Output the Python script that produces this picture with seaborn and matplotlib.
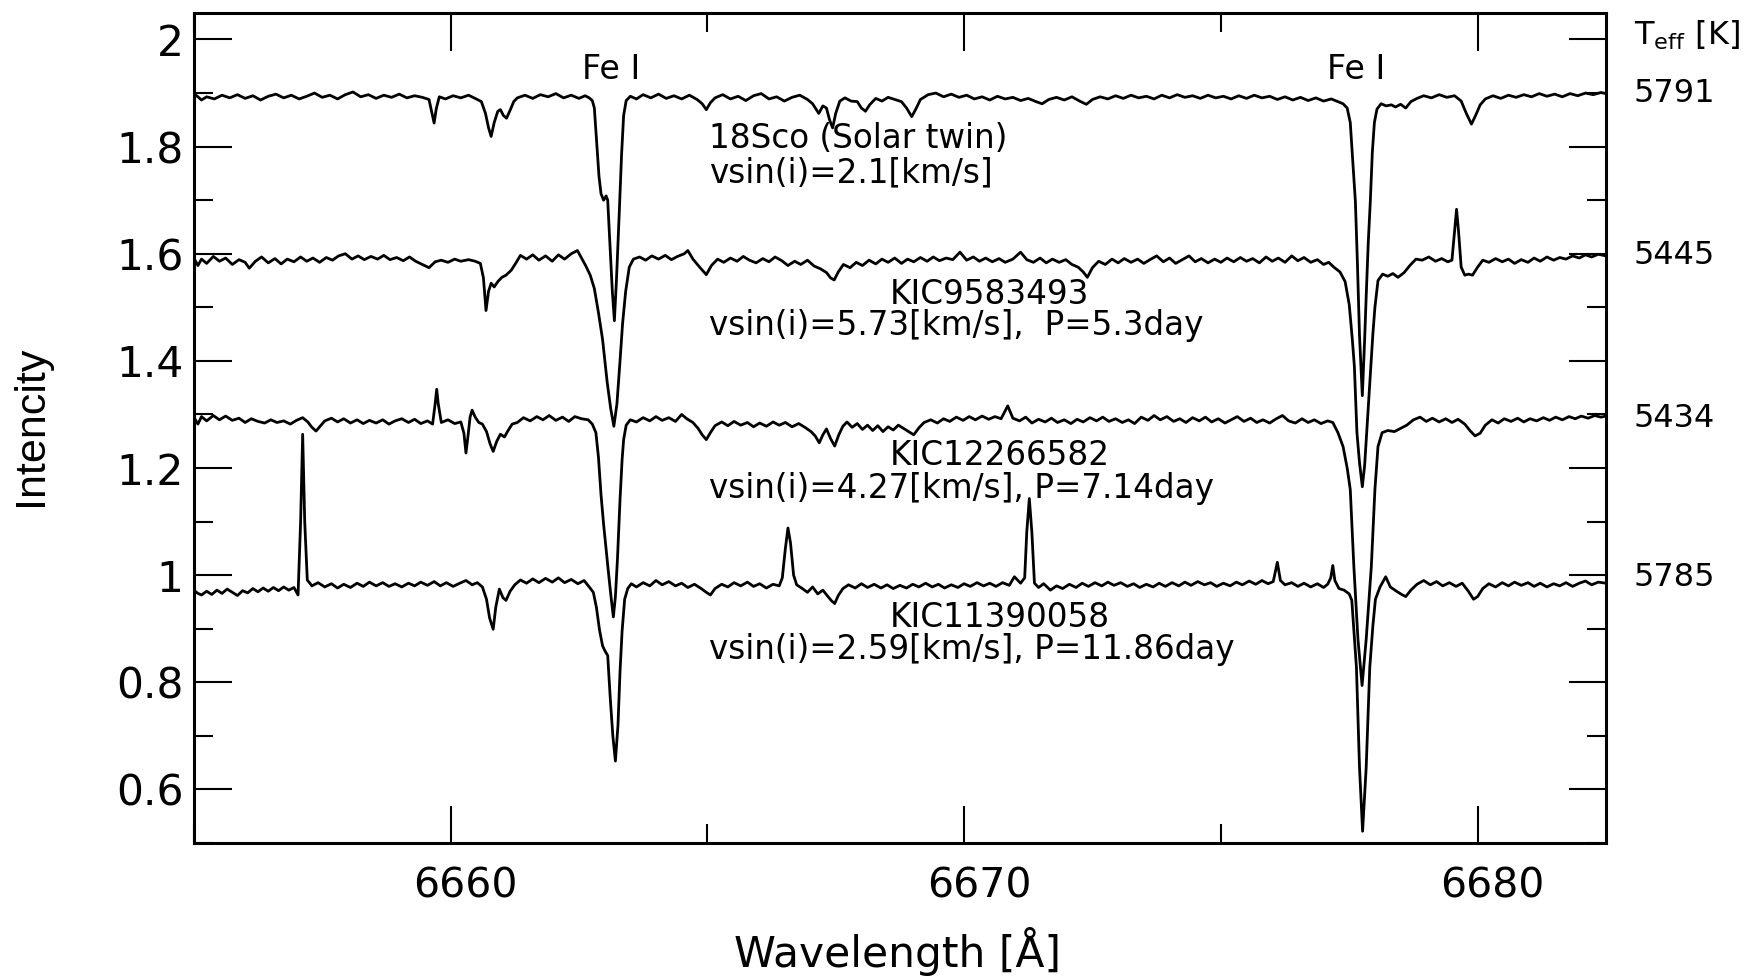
import numpy as np
import pandas as pd
import matplotlib
matplotlib.use("Agg")
import matplotlib.pyplot as plt
import matplotlib.transforms as mtransforms
from matplotlib.ticker import MultipleLocator, FormatStrFormatter
import seaborn as sns

# ---------------- data (wavelength [A], normalised intensity + offset) ----------------
SPEC_18SCO = np.array([
    (6655.00, 1.899), (6655.08, 1.893), (6655.15, 1.887), (6655.25, 1.893), (6655.40, 1.889), (6655.55, 1.896),
    (6655.70, 1.891), (6655.85, 1.897), (6656.00, 1.890), (6656.15, 1.895), (6656.30, 1.887), (6656.45, 1.894),
    (6656.60, 1.898), (6656.75, 1.891), (6656.90, 1.896), (6657.05, 1.889), (6657.20, 1.894), (6657.35, 1.900),
    (6657.50, 1.892), (6657.65, 1.896), (6657.80, 1.889), (6657.95, 1.897), (6658.10, 1.902), (6658.25, 1.893),
    (6658.40, 1.897), (6658.55, 1.890), (6658.70, 1.896), (6658.85, 1.892), (6659.00, 1.898), (6659.15, 1.891),
    (6659.30, 1.895), (6659.45, 1.892), (6659.58, 1.888), (6659.64, 1.862), (6659.68, 1.844), (6659.72, 1.870),
    (6659.78, 1.893), (6659.90, 1.889), (6660.05, 1.895), (6660.20, 1.891), (6660.35, 1.896), (6660.50, 1.889),
    (6660.60, 1.884), (6660.68, 1.862), (6660.74, 1.835), (6660.79, 1.819), (6660.85, 1.845), (6660.92, 1.866),
    (6660.97, 1.869), (6661.03, 1.858), (6661.09, 1.853), (6661.16, 1.868), (6661.23, 1.884), (6661.30, 1.891),
    (6661.45, 1.896), (6661.60, 1.890), (6661.75, 1.897), (6661.90, 1.893), (6662.05, 1.899), (6662.20, 1.891),
    (6662.35, 1.896), (6662.50, 1.890), (6662.62, 1.895), (6662.70, 1.891), (6662.76, 1.886), (6662.80, 1.872),
    (6662.84, 1.815), (6662.89, 1.745), (6662.93, 1.712), (6662.98, 1.700), (6663.03, 1.708), (6663.06, 1.700),
    (6663.11, 1.605), (6663.15, 1.530), (6663.19, 1.475), (6663.23, 1.550), (6663.28, 1.665), (6663.33, 1.785),
    (6663.37, 1.858), (6663.42, 1.886), (6663.50, 1.894), (6663.62, 1.889), (6663.75, 1.897), (6663.90, 1.891),
    (6664.05, 1.898), (6664.20, 1.890), (6664.35, 1.895), (6664.50, 1.889), (6664.65, 1.896), (6664.80, 1.888),
    (6664.90, 1.880), (6664.98, 1.869), (6665.06, 1.882), (6665.15, 1.891), (6665.30, 1.897), (6665.45, 1.889),
    (6665.60, 1.894), (6665.75, 1.886), (6665.90, 1.895), (6666.05, 1.899), (6666.20, 1.889), (6666.35, 1.893),
    (6666.50, 1.885), (6666.65, 1.892), (6666.80, 1.896), (6666.95, 1.888), (6667.05, 1.880), (6667.17, 1.862),
    (6667.25, 1.876), (6667.32, 1.872), (6667.38, 1.850), (6667.44, 1.835), (6667.50, 1.862), (6667.58, 1.885),
    (6667.68, 1.891), (6667.80, 1.885), (6667.92, 1.884), (6668.00, 1.872), (6668.08, 1.866), (6668.16, 1.878),
    (6668.28, 1.890), (6668.40, 1.885), (6668.52, 1.892), (6668.65, 1.888), (6668.78, 1.884), (6668.88, 1.872),
    (6668.98, 1.856), (6669.06, 1.870), (6669.15, 1.888), (6669.30, 1.897), (6669.45, 1.900), (6669.60, 1.893),
    (6669.75, 1.898), (6669.90, 1.892), (6670.05, 1.896), (6670.20, 1.889), (6670.35, 1.893), (6670.50, 1.887),
    (6670.65, 1.894), (6670.80, 1.889), (6670.95, 1.892), (6671.10, 1.886), (6671.25, 1.890), (6671.40, 1.884),
    (6671.52, 1.880), (6671.65, 1.888), (6671.80, 1.892), (6671.95, 1.887), (6672.10, 1.893), (6672.25, 1.885),
    (6672.38, 1.879), (6672.50, 1.888), (6672.65, 1.893), (6672.80, 1.889), (6672.95, 1.895), (6673.10, 1.890),
    (6673.25, 1.896), (6673.40, 1.891), (6673.55, 1.894), (6673.70, 1.889), (6673.85, 1.896), (6674.00, 1.891),
    (6674.15, 1.897), (6674.30, 1.892), (6674.45, 1.895), (6674.60, 1.890), (6674.75, 1.896), (6674.90, 1.891),
    (6675.05, 1.894), (6675.20, 1.889), (6675.35, 1.895), (6675.50, 1.890), (6675.65, 1.896), (6675.80, 1.891),
    (6675.95, 1.894), (6676.10, 1.888), (6676.25, 1.893), (6676.40, 1.887), (6676.55, 1.892), (6676.70, 1.886),
    (6676.85, 1.891), (6677.00, 1.885), (6677.15, 1.889), (6677.28, 1.884), (6677.38, 1.880), (6677.46, 1.872),
    (6677.52, 1.845), (6677.57, 1.770), (6677.62, 1.697), (6677.66, 1.580), (6677.70, 1.447), (6677.755, 1.335),
    (6677.80, 1.440), (6677.83, 1.520), (6677.87, 1.620), (6677.91, 1.697), (6677.95, 1.790), (6677.99, 1.845),
    (6678.04, 1.870), (6678.12, 1.880), (6678.22, 1.876), (6678.32, 1.878), (6678.40, 1.874), (6678.50, 1.879),
    (6678.60, 1.872), (6678.70, 1.884), (6678.82, 1.890), (6678.95, 1.895), (6679.10, 1.891), (6679.25, 1.897),
    (6679.40, 1.892), (6679.55, 1.895), (6679.68, 1.885), (6679.78, 1.862), (6679.88, 1.842), (6679.96, 1.858),
    (6680.05, 1.878), (6680.15, 1.889), (6680.30, 1.895), (6680.45, 1.890), (6680.60, 1.896), (6680.75, 1.892),
    (6680.90, 1.897), (6681.05, 1.893), (6681.20, 1.899), (6681.35, 1.894), (6681.50, 1.898), (6681.65, 1.893),
    (6681.80, 1.899), (6681.95, 1.895), (6682.10, 1.900), (6682.25, 1.897), (6682.40, 1.901), (6682.50, 1.899),
])

SPEC_KIC9583493 = np.array([
    (6655.00, 1.592), (6655.08, 1.578), (6655.15, 1.590), (6655.25, 1.582), (6655.38, 1.595), (6655.50, 1.586),
    (6655.62, 1.592), (6655.75, 1.580), (6655.88, 1.589), (6656.00, 1.584), (6656.08, 1.573), (6656.20, 1.586),
    (6656.32, 1.594), (6656.45, 1.583), (6656.58, 1.591), (6656.70, 1.581), (6656.82, 1.590), (6656.95, 1.585),
    (6657.08, 1.594), (6657.20, 1.586), (6657.32, 1.592), (6657.45, 1.584), (6657.58, 1.593), (6657.70, 1.588),
    (6657.82, 1.596), (6657.95, 1.600), (6658.08, 1.590), (6658.20, 1.596), (6658.32, 1.589), (6658.45, 1.595),
    (6658.58, 1.590), (6658.70, 1.597), (6658.82, 1.589), (6658.95, 1.593), (6659.08, 1.587), (6659.20, 1.594),
    (6659.32, 1.586), (6659.45, 1.580), (6659.58, 1.574), (6659.70, 1.585), (6659.82, 1.588), (6659.95, 1.584),
    (6660.08, 1.590), (6660.20, 1.586), (6660.35, 1.589), (6660.48, 1.586), (6660.58, 1.582), (6660.64, 1.555),
    (6660.69, 1.494), (6660.74, 1.530), (6660.79, 1.545), (6660.85, 1.538), (6660.92, 1.548), (6661.00, 1.556),
    (6661.08, 1.560), (6661.18, 1.569), (6661.28, 1.584), (6661.36, 1.597), (6661.48, 1.590), (6661.60, 1.598),
    (6661.72, 1.588), (6661.85, 1.596), (6661.98, 1.586), (6662.10, 1.598), (6662.22, 1.590), (6662.35, 1.600),
    (6662.47, 1.606), (6662.55, 1.592), (6662.63, 1.578), (6662.72, 1.560), (6662.80, 1.535), (6662.88, 1.490),
    (6662.96, 1.440), (6663.05, 1.360), (6663.12, 1.310), (6663.18, 1.278), (6663.24, 1.320), (6663.30, 1.400),
    (6663.35, 1.470), (6663.41, 1.530), (6663.48, 1.575), (6663.56, 1.590), (6663.68, 1.594), (6663.80, 1.588),
    (6663.92, 1.596), (6664.05, 1.590), (6664.18, 1.597), (6664.30, 1.589), (6664.42, 1.595), (6664.55, 1.600),
    (6664.62, 1.606), (6664.72, 1.590), (6664.85, 1.575), (6664.98, 1.561), (6665.08, 1.578), (6665.20, 1.590),
    (6665.32, 1.584), (6665.45, 1.592), (6665.58, 1.586), (6665.70, 1.595), (6665.82, 1.588), (6665.95, 1.583),
    (6666.08, 1.591), (6666.20, 1.585), (6666.32, 1.594), (6666.45, 1.587), (6666.57, 1.578), (6666.70, 1.586),
    (6666.82, 1.580), (6666.95, 1.588), (6667.08, 1.577), (6667.20, 1.572), (6667.32, 1.565), (6667.40, 1.555),
    (6667.47, 1.551), (6667.55, 1.566), (6667.65, 1.580), (6667.78, 1.574), (6667.90, 1.584), (6668.02, 1.578),
    (6668.15, 1.588), (6668.28, 1.581), (6668.40, 1.590), (6668.52, 1.584), (6668.65, 1.592), (6668.78, 1.582),
    (6668.90, 1.590), (6669.02, 1.585), (6669.15, 1.593), (6669.28, 1.586), (6669.40, 1.594), (6669.52, 1.587),
    (6669.65, 1.592), (6669.78, 1.589), (6669.92, 1.603), (6670.05, 1.588), (6670.18, 1.594), (6670.30, 1.586),
    (6670.42, 1.592), (6670.55, 1.585), (6670.68, 1.591), (6670.80, 1.584), (6670.95, 1.590), (6671.10, 1.603),
    (6671.22, 1.589), (6671.35, 1.584), (6671.48, 1.592), (6671.60, 1.583), (6671.72, 1.590), (6671.85, 1.584),
    (6671.98, 1.589), (6672.10, 1.580), (6672.22, 1.575), (6672.32, 1.566), (6672.40, 1.556), (6672.50, 1.574),
    (6672.62, 1.586), (6672.75, 1.580), (6672.88, 1.590), (6673.00, 1.583), (6673.12, 1.591), (6673.25, 1.584),
    (6673.38, 1.590), (6673.50, 1.582), (6673.62, 1.589), (6673.75, 1.596), (6673.88, 1.585), (6674.00, 1.592),
    (6674.12, 1.582), (6674.25, 1.589), (6674.38, 1.596), (6674.50, 1.585), (6674.62, 1.591), (6674.75, 1.583),
    (6674.88, 1.590), (6675.00, 1.584), (6675.12, 1.592), (6675.25, 1.585), (6675.38, 1.593), (6675.50, 1.586),
    (6675.62, 1.591), (6675.75, 1.583), (6675.88, 1.594), (6676.00, 1.586), (6676.12, 1.592), (6676.25, 1.584),
    (6676.38, 1.596), (6676.50, 1.587), (6676.62, 1.593), (6676.75, 1.584), (6676.88, 1.589), (6677.00, 1.580),
    (6677.10, 1.584), (6677.20, 1.575), (6677.32, 1.566), (6677.42, 1.548), (6677.50, 1.505), (6677.56, 1.440),
    (6677.60, 1.390), (6677.65, 1.266), (6677.70, 1.210), (6677.755, 1.165), (6677.80, 1.205), (6677.84, 1.266),
    (6677.88, 1.330), (6677.92, 1.390), (6677.96, 1.450), (6678.00, 1.500), (6678.06, 1.550), (6678.15, 1.562),
    (6678.25, 1.558), (6678.35, 1.563), (6678.45, 1.556), (6678.57, 1.565), (6678.68, 1.578), (6678.80, 1.590),
    (6678.92, 1.588), (6679.05, 1.594), (6679.18, 1.586), (6679.30, 1.591), (6679.42, 1.585), (6679.50, 1.588),
    (6679.55, 1.640), (6679.59, 1.683), (6679.63, 1.640), (6679.68, 1.575), (6679.75, 1.560), (6679.82, 1.562),
    (6679.90, 1.560), (6680.00, 1.575), (6680.10, 1.588), (6680.22, 1.584), (6680.35, 1.591), (6680.48, 1.585),
    (6680.60, 1.590), (6680.72, 1.582), (6680.85, 1.589), (6680.98, 1.584), (6681.10, 1.592), (6681.22, 1.586),
    (6681.35, 1.594), (6681.48, 1.588), (6681.60, 1.593), (6681.72, 1.590), (6681.85, 1.596), (6681.98, 1.592),
    (6682.10, 1.598), (6682.22, 1.594), (6682.35, 1.599), (6682.50, 1.596),
])

SPEC_KIC12266582 = np.array([
    (6655.00, 1.295), (6655.08, 1.282), (6655.15, 1.296), (6655.25, 1.288), (6655.38, 1.298), (6655.50, 1.290),
    (6655.62, 1.297), (6655.75, 1.289), (6655.88, 1.293), (6656.00, 1.285), (6656.12, 1.292), (6656.25, 1.287),
    (6656.38, 1.284), (6656.50, 1.290), (6656.62, 1.285), (6656.75, 1.288), (6656.88, 1.282), (6657.00, 1.289),
    (6657.12, 1.294), (6657.22, 1.286), (6657.30, 1.276), (6657.38, 1.269), (6657.46, 1.278), (6657.55, 1.288),
    (6657.68, 1.293), (6657.80, 1.286), (6657.92, 1.292), (6658.05, 1.284), (6658.18, 1.290), (6658.30, 1.283),
    (6658.42, 1.289), (6658.55, 1.284), (6658.68, 1.290), (6658.80, 1.282), (6658.92, 1.288), (6659.05, 1.292),
    (6659.18, 1.285), (6659.30, 1.291), (6659.42, 1.283), (6659.55, 1.288), (6659.65, 1.282), (6659.70, 1.320),
    (6659.73, 1.347), (6659.76, 1.320), (6659.82, 1.285), (6659.95, 1.290), (6660.08, 1.283), (6660.20, 1.286),
    (6660.26, 1.265), (6660.30, 1.228), (6660.34, 1.260), (6660.38, 1.295), (6660.42, 1.308), (6660.48, 1.295),
    (6660.55, 1.285), (6660.62, 1.282), (6660.70, 1.268), (6660.77, 1.245), (6660.83, 1.231), (6660.90, 1.250),
    (6660.97, 1.263), (6661.05, 1.258), (6661.12, 1.270), (6661.20, 1.282), (6661.30, 1.285), (6661.42, 1.294),
    (6661.55, 1.288), (6661.68, 1.296), (6661.80, 1.290), (6661.92, 1.298), (6662.05, 1.289), (6662.18, 1.295),
    (6662.30, 1.287), (6662.42, 1.296), (6662.55, 1.292), (6662.68, 1.290), (6662.76, 1.282), (6662.83, 1.266),
    (6662.88, 1.220), (6662.93, 1.150), (6662.98, 1.095), (6663.03, 1.047), (6663.08, 1.000), (6663.13, 0.955),
    (6663.17, 0.922), (6663.21, 0.960), (6663.25, 1.030), (6663.30, 1.141), (6663.34, 1.215), (6663.37, 1.253),
    (6663.42, 1.280), (6663.50, 1.290), (6663.62, 1.286), (6663.75, 1.294), (6663.88, 1.288), (6664.00, 1.296),
    (6664.12, 1.289), (6664.25, 1.294), (6664.38, 1.287), (6664.50, 1.300), (6664.60, 1.292), (6664.72, 1.285),
    (6664.82, 1.274), (6664.90, 1.262), (6664.98, 1.253), (6665.06, 1.266), (6665.15, 1.279), (6665.28, 1.286),
    (6665.40, 1.279), (6665.52, 1.287), (6665.65, 1.280), (6665.78, 1.285), (6665.90, 1.277), (6666.02, 1.284),
    (6666.15, 1.278), (6666.28, 1.286), (6666.40, 1.280), (6666.52, 1.285), (6666.65, 1.277), (6666.78, 1.283),
    (6666.90, 1.276), (6667.02, 1.268), (6667.10, 1.260), (6667.18, 1.247), (6667.25, 1.262), (6667.32, 1.273),
    (6667.40, 1.255), (6667.48, 1.241), (6667.56, 1.262), (6667.64, 1.278), (6667.72, 1.286), (6667.82, 1.276),
    (6667.92, 1.283), (6668.02, 1.272), (6668.12, 1.280), (6668.22, 1.270), (6668.32, 1.279), (6668.42, 1.268),
    (6668.52, 1.277), (6668.62, 1.271), (6668.72, 1.280), (6668.82, 1.274), (6668.92, 1.268), (6669.02, 1.262),
    (6669.12, 1.275), (6669.22, 1.285), (6669.35, 1.290), (6669.48, 1.284), (6669.60, 1.292), (6669.72, 1.287),
    (6669.85, 1.295), (6669.98, 1.289), (6670.10, 1.296), (6670.22, 1.290), (6670.35, 1.297), (6670.48, 1.291),
    (6670.60, 1.296), (6670.72, 1.292), (6670.85, 1.316), (6670.95, 1.293), (6671.08, 1.288), (6671.20, 1.295),
    (6671.32, 1.284), (6671.45, 1.291), (6671.58, 1.286), (6671.70, 1.293), (6671.82, 1.285), (6671.95, 1.290),
    (6672.08, 1.283), (6672.20, 1.291), (6672.32, 1.286), (6672.45, 1.294), (6672.58, 1.288), (6672.70, 1.295),
    (6672.82, 1.287), (6672.95, 1.292), (6673.08, 1.285), (6673.20, 1.290), (6673.32, 1.283), (6673.45, 1.295),
    (6673.58, 1.289), (6673.70, 1.298), (6673.82, 1.290), (6673.95, 1.296), (6674.08, 1.287), (6674.20, 1.292),
    (6674.32, 1.285), (6674.45, 1.294), (6674.58, 1.288), (6674.70, 1.295), (6674.82, 1.286), (6674.95, 1.292),
    (6675.08, 1.284), (6675.20, 1.290), (6675.32, 1.296), (6675.45, 1.287), (6675.58, 1.293), (6675.70, 1.285),
    (6675.82, 1.290), (6675.95, 1.284), (6676.08, 1.292), (6676.20, 1.298), (6676.32, 1.288), (6676.45, 1.284),
    (6676.58, 1.292), (6676.70, 1.285), (6676.82, 1.290), (6676.95, 1.283), (6677.08, 1.288), (6677.18, 1.285),
    (6677.28, 1.266), (6677.38, 1.240), (6677.46, 1.200), (6677.52, 1.160), (6677.59, 1.016), (6677.67, 0.880),
    (6677.75, 0.794), (6677.83, 0.880), (6677.93, 1.016), (6678.00, 1.160), (6678.06, 1.240), (6678.14, 1.266),
    (6678.25, 1.270), (6678.38, 1.268), (6678.50, 1.274), (6678.62, 1.280), (6678.75, 1.290), (6678.88, 1.295),
    (6679.00, 1.287), (6679.12, 1.293), (6679.25, 1.286), (6679.38, 1.292), (6679.50, 1.285), (6679.62, 1.291),
    (6679.75, 1.282), (6679.85, 1.270), (6679.95, 1.260), (6680.05, 1.265), (6680.15, 1.280), (6680.28, 1.290),
    (6680.40, 1.284), (6680.52, 1.292), (6680.65, 1.287), (6680.78, 1.293), (6680.90, 1.286), (6681.02, 1.292),
    (6681.15, 1.288), (6681.28, 1.294), (6681.40, 1.289), (6681.52, 1.295), (6681.65, 1.290), (6681.78, 1.296),
    (6681.90, 1.292), (6682.02, 1.297), (6682.15, 1.293), (6682.28, 1.298), (6682.40, 1.295), (6682.50, 1.297),
])

SPEC_KIC11390058 = np.array([
    (6655.00, 0.972), (6655.08, 0.966), (6655.15, 0.963), (6655.25, 0.970), (6655.35, 0.964), (6655.45, 0.972),
    (6655.55, 0.966), (6655.65, 0.974), (6655.75, 0.968), (6655.85, 0.962), (6655.95, 0.971), (6656.05, 0.967),
    (6656.15, 0.975), (6656.25, 0.969), (6656.35, 0.976), (6656.45, 0.970), (6656.55, 0.977), (6656.65, 0.971),
    (6656.75, 0.978), (6656.85, 0.972), (6656.95, 0.977), (6657.03, 0.963), (6657.08, 1.100), (6657.12, 1.263),
    (6657.16, 1.100), (6657.21, 0.991), (6657.30, 0.980), (6657.42, 0.986), (6657.55, 0.978), (6657.68, 0.984),
    (6657.80, 0.976), (6657.92, 0.983), (6658.05, 0.977), (6658.18, 0.985), (6658.30, 0.979), (6658.42, 0.987),
    (6658.55, 0.980), (6658.68, 0.986), (6658.80, 0.979), (6658.92, 0.984), (6659.05, 0.978), (6659.18, 0.985),
    (6659.30, 0.980), (6659.42, 0.987), (6659.55, 0.981), (6659.68, 0.988), (6659.80, 0.980), (6659.92, 0.986),
    (6660.05, 0.979), (6660.18, 0.985), (6660.30, 0.990), (6660.42, 0.982), (6660.52, 0.986), (6660.62, 0.978),
    (6660.70, 0.955), (6660.76, 0.920), (6660.83, 0.899), (6660.88, 0.940), (6660.95, 0.974), (6661.02, 0.958),
    (6661.08, 0.953), (6661.16, 0.970), (6661.25, 0.982), (6661.36, 0.991), (6661.48, 0.985), (6661.60, 0.993),
    (6661.72, 0.986), (6661.85, 0.994), (6661.98, 0.987), (6662.10, 0.995), (6662.22, 0.986), (6662.35, 0.992),
    (6662.48, 0.984), (6662.60, 0.990), (6662.70, 0.978), (6662.78, 0.968), (6662.84, 0.940), (6662.90, 0.898),
    (6662.96, 0.868), (6663.01, 0.858), (6663.06, 0.850), (6663.11, 0.770), (6663.16, 0.700), (6663.21, 0.653),
    (6663.26, 0.720), (6663.30, 0.820), (6663.34, 0.895), (6663.39, 0.955), (6663.45, 0.975), (6663.52, 0.984),
    (6663.62, 0.978), (6663.75, 0.986), (6663.88, 0.980), (6664.00, 0.990), (6664.12, 0.982), (6664.25, 0.988),
    (6664.38, 0.980), (6664.50, 0.985), (6664.62, 0.977), (6664.75, 0.983), (6664.88, 0.975), (6664.98, 0.968),
    (6665.06, 0.963), (6665.15, 0.975), (6665.28, 0.983), (6665.40, 0.978), (6665.52, 0.986), (6665.65, 0.980),
    (6665.78, 0.987), (6665.90, 0.979), (6666.02, 0.984), (6666.15, 0.976), (6666.28, 0.983), (6666.40, 0.980),
    (6666.46, 0.995), (6666.52, 1.050), (6666.57, 1.088), (6666.62, 1.060), (6666.68, 1.000), (6666.74, 0.982),
    (6666.85, 0.975), (6666.95, 0.968), (6667.05, 0.978), (6667.15, 0.965), (6667.25, 0.972), (6667.35, 0.960),
    (6667.42, 0.952), (6667.48, 0.947), (6667.55, 0.962), (6667.64, 0.975), (6667.75, 0.982), (6667.88, 0.976),
    (6668.00, 0.984), (6668.12, 0.977), (6668.25, 0.983), (6668.38, 0.976), (6668.50, 0.982), (6668.62, 0.975),
    (6668.75, 0.981), (6668.88, 0.976), (6669.00, 0.983), (6669.12, 0.978), (6669.25, 0.985), (6669.38, 0.978),
    (6669.50, 0.983), (6669.62, 0.976), (6669.75, 0.982), (6669.88, 0.977), (6670.00, 0.984), (6670.12, 0.979),
    (6670.25, 0.986), (6670.38, 0.980), (6670.50, 0.985), (6670.62, 0.979), (6670.75, 0.986), (6670.88, 0.981),
    (6670.98, 0.997), (6671.10, 0.985), (6671.18, 0.995), (6671.22, 1.080), (6671.27, 1.143), (6671.32, 1.080),
    (6671.37, 0.985), (6671.45, 0.977), (6671.55, 0.984), (6671.68, 0.972), (6671.80, 0.980), (6671.92, 0.975),
    (6672.05, 0.983), (6672.18, 0.977), (6672.30, 0.985), (6672.42, 0.979), (6672.55, 0.986), (6672.68, 0.980),
    (6672.80, 0.987), (6672.92, 0.981), (6673.05, 0.986), (6673.18, 0.979), (6673.30, 0.984), (6673.42, 0.977),
    (6673.55, 0.983), (6673.68, 0.978), (6673.80, 0.985), (6673.92, 0.979), (6674.05, 0.986), (6674.18, 0.980),
    (6674.30, 0.987), (6674.42, 0.981), (6674.55, 0.988), (6674.68, 0.982), (6674.80, 0.986), (6674.92, 0.979),
    (6675.05, 0.985), (6675.18, 0.980), (6675.30, 0.987), (6675.42, 0.982), (6675.55, 0.989), (6675.68, 0.983),
    (6675.80, 0.990), (6675.92, 0.984), (6676.02, 0.988), (6676.10, 1.024), (6676.16, 0.990), (6676.25, 0.982),
    (6676.38, 0.986), (6676.50, 0.979), (6676.62, 0.985), (6676.75, 0.978), (6676.88, 0.984), (6677.00, 0.977),
    (6677.08, 0.983), (6677.14, 0.995), (6677.18, 1.018), (6677.22, 0.990), (6677.30, 0.975), (6677.40, 0.972),
    (6677.50, 0.965), (6677.55, 0.953), (6677.60, 0.885), (6677.64, 0.828), (6677.70, 0.641), (6677.76, 0.522),
    (6677.83, 0.641), (6677.87, 0.750), (6677.90, 0.828), (6677.96, 0.905), (6678.01, 0.955), (6678.10, 0.978),
    (6678.21, 0.997), (6678.30, 0.978), (6678.42, 0.970), (6678.52, 0.964), (6678.60, 0.960), (6678.70, 0.972),
    (6678.82, 0.983), (6678.95, 0.990), (6679.08, 0.982), (6679.20, 0.988), (6679.32, 0.980), (6679.45, 0.986),
    (6679.58, 0.979), (6679.70, 0.985), (6679.82, 0.970), (6679.92, 0.955), (6680.00, 0.960), (6680.10, 0.975),
    (6680.22, 0.984), (6680.35, 0.978), (6680.48, 0.986), (6680.60, 0.980), (6680.72, 0.987), (6680.85, 0.981),
    (6680.98, 0.986), (6681.10, 0.979), (6681.22, 0.985), (6681.35, 0.978), (6681.48, 0.984), (6681.60, 0.980),
    (6681.72, 0.986), (6681.85, 0.979), (6681.98, 0.985), (6682.10, 0.989), (6682.22, 0.982), (6682.35, 0.987),
    (6682.50, 0.985),
])

STAR_NAMES = ["18Sco (Solar twin)", "KIC9583493", "KIC12266582", "KIC11390058"]
STAR_INFO = ["vsin(i)=2.1[km/s]", "vsin(i)=5.73[km/s],  P=5.3day",
             "vsin(i)=4.27[km/s], P=7.14day", "vsin(i)=2.59[km/s], P=11.86day"]
TEFF_VALUES = ["5791", "5445", "5434", "5785"]
LINE_LABELS = ["Fe I", "Fe I"]

# ---------------- layout ----------------
W, H, DPI = 1759, 976, 100
sns.set_theme(style="white")
plt.rcParams["font.family"] = ["DejaVu Sans"]
plt.rcParams["mathtext.default"] = "regular"
for key in ["text.color", "axes.labelcolor", "xtick.color", "ytick.color", "axes.edgecolor"]:
    plt.rcParams[key] = "black"

fig = plt.figure(figsize=(W / DPI, H / DPI), dpi=DPI)
ax = fig.add_axes([193.8 / W, 1 - 843 / H, (1606 - 193.8) / W, (843 - 12.7) / H])

spectra = [SPEC_18SCO, SPEC_KIC9583493, SPEC_KIC12266582, SPEC_KIC11390058]
for name, spec in zip(STAR_NAMES, spectra):
    df = pd.DataFrame({"wavelength": spec[:, 0], "intensity": spec[:, 1]})
    sns.lineplot(data=df, x="wavelength", y="intensity", ax=ax, color="black",
                 linewidth=2.0, estimator=None, sort=False, legend=False)

ax.set_xlim(6655, 6682.5)
ax.set_ylim(0.5, 2.05)

ax.xaxis.set_major_locator(MultipleLocator(10))
ax.xaxis.set_minor_locator(MultipleLocator(5))
ax.yaxis.set_major_locator(MultipleLocator(0.2))
ax.yaxis.set_minor_locator(MultipleLocator(0.1))
ax.yaxis.set_major_formatter(FormatStrFormatter("%g"))
ax.xaxis.set_major_formatter(FormatStrFormatter("%d"))

ax.tick_params(which="both", direction="in", top=True, right=True, bottom=True, left=True,
               color="black", labelcolor="black", width=1.5)
ax.tick_params(which="major", length=27)
ax.tick_params(which="minor", length=13.5)
ax.tick_params(axis="x", which="major", labelsize=29.5, pad=17)
ax.tick_params(axis="y", which="major", labelsize=30.5, pad=7.5)
for sp in ax.spines.values():
    sp.set_linewidth(2.2)
    sp.set_color("black")

# x tick labels sit slightly right of their ticks in the reference
offset = mtransforms.ScaledTranslation(15 / DPI, 0, fig.dpi_scale_trans)
for lab in ax.get_xticklabels():
    lab.set_transform(lab.get_transform() + offset)

ax.set_xlabel("Wavelength [Å]", fontsize=30.5, color="black")
ax.xaxis.label.set_verticalalignment("baseline")
ax.xaxis.set_label_coords(0.498, -0.149)
ax.set_ylabel("Intencity", fontsize=31, color="black", family=["Liberation Sans", "DejaVu Sans"])
ax.yaxis.set_label_coords(-0.101, 0.502)

# line identifications
for lab, x in zip(LINE_LABELS, [6662.55, 6677.06]):
    ax.text(x, 1.927, lab, fontsize=24, ha="left", va="baseline", color="black")

# star annotations
name_pos = [(6665.04, 1.797), (6668.55, 1.506), (6668.55, 1.206), (6668.55, 0.904)]
info_pos = [(6665.04, 1.734), (6665.04, 1.448), (6665.04, 1.144), (6665.04, 0.844)]
for name, info, (nx, ny), (ix, iy) in zip(STAR_NAMES, STAR_INFO, name_pos, info_pos):
    ax.text(nx, ny, name, fontsize=23.5, ha="left", va="baseline", color="black")
    ax.text(ix, iy, info, fontsize=23.5, ha="left", va="baseline", color="black")

# effective temperatures on the right
ax.text(6683.04, 1.991, r"T$_{\rm eff}$ [K]", fontsize=23, ha="left", va="baseline",
        color="black", clip_on=False)
for t, y in zip(TEFF_VALUES, [1.905, 1.603, 1.299, 1.003]):
    ax.text(6683.04, y, t, fontsize=23, ha="left", va="center_baseline", color="black", clip_on=False)

fig.savefig("out.png", dpi=DPI)
